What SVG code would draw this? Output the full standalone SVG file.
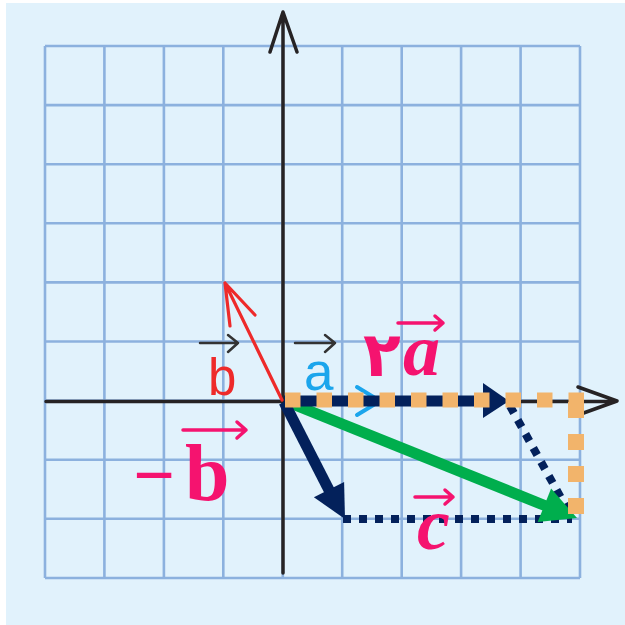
<svg xmlns="http://www.w3.org/2000/svg" width="625" height="625" viewBox="0 0 625 625">
<style>
.grid line{stroke:#8cb1de;stroke-width:2.6}
.axis{stroke:#262324;stroke-width:3.5;fill:none;stroke-linecap:round;stroke-linejoin:round}
.navy{fill:#03215b}
.navyline{stroke:#03215b;fill:none}
.pinkarrow{stroke:#f5136f;stroke-width:3.5;fill:none;stroke-linecap:round;stroke-linejoin:round}
.blackarrow{stroke:#333;stroke-width:2.5;fill:none;stroke-linecap:round;stroke-linejoin:round}
.pink{fill:#f5136f}
.serif{font-family:"Liberation Serif","Times New Roman",serif;font-weight:bold}
</style>
<rect x="0" y="0" width="625" height="625" fill="#ffffff"/>
<rect x="6" y="3" width="619" height="622" fill="#e1f2fc"/>
<g class="grid" id="grid">
<line x1="45" y1="46" x2="45" y2="578"/>
<line x1="104.4" y1="46" x2="104.4" y2="578"/>
<line x1="163.9" y1="46" x2="163.9" y2="578"/>
<line x1="223.3" y1="46" x2="223.3" y2="578"/>
<line x1="282.8" y1="46" x2="282.8" y2="578"/>
<line x1="342.2" y1="46" x2="342.2" y2="578"/>
<line x1="401.7" y1="46" x2="401.7" y2="578"/>
<line x1="461.1" y1="46" x2="461.1" y2="578"/>
<line x1="520.6" y1="46" x2="520.6" y2="578"/>
<line x1="580" y1="46" x2="580" y2="578"/>
<line x1="45" y1="46" x2="580" y2="46"/>
<line x1="45" y1="105.1" x2="580" y2="105.1"/>
<line x1="45" y1="164.2" x2="580" y2="164.2"/>
<line x1="45" y1="223.3" x2="580" y2="223.3"/>
<line x1="45" y1="282.4" x2="580" y2="282.4"/>
<line x1="45" y1="341.5" x2="580" y2="341.5"/>
<line x1="45" y1="400.6" x2="580" y2="400.6"/>
<line x1="45" y1="459.7" x2="580" y2="459.7"/>
<line x1="45" y1="518.8" x2="580" y2="518.8"/>
<line x1="45" y1="578" x2="580" y2="578"/>
</g>
<g id="axes">
<path class="axis" d="M46,401.5 H616 M578,387 L617,401 L578,415"/>
<path class="axis" d="M283,573 V12 M270,52 L283,12 L297,52"/>
</g>
<g id="connectors">
<g id="vec-b">
<path d="M282,400 L225,283 M230,326 L225,283 L255,315" stroke="#ee2a2a" stroke-width="3.2" fill="none" stroke-linecap="round" stroke-linejoin="round"/>
</g>
<g id="vec-a-hint">
<path d="M357,387 L380,401 L357,415" stroke="#1ba5ec" stroke-width="4" fill="none" stroke-linecap="round"/>
</g>
<path class="navyline" d="M510,406 L570,514" stroke-width="8" stroke-dasharray="8 8"/>
<path class="navyline" d="M343,519 H572" stroke-width="8" stroke-dasharray="8 8"/>
<g id="vec-c">
<line x1="285" y1="401" x2="546" y2="506" stroke="#00ae4d" stroke-width="11"/>
<polygon points="577,518 537.7,522 551.1,488.6" fill="#00ae4d"/>
</g>
<g id="vec-2a">
<line x1="284" y1="401" x2="487" y2="401" stroke="#03215b" stroke-width="11"/>
<polygon class="navy" points="483,383 509,401 483,418"/>
</g>
<g id="vec-minus-b">
<line x1="284" y1="402" x2="330" y2="492" stroke="#03215b" stroke-width="11"/>
<polygon class="navy" points="345,519 344.1,481.9 313.9,497.3"/>
</g>
<path d="M285,400 H584" stroke="#f2b46b" stroke-width="15" stroke-dasharray="15.5 16" fill="none"/>
<path d="M576,402 V515" stroke="#f2b46b" stroke-width="16" stroke-dasharray="16 16" fill="none"/>
</g>
<g id="label-b">
<path class="blackarrow" d="M200,343 H238 M228,335 L238,343 L228,352"/>
<text x="208" y="395" font-family="Liberation Sans, Arial, sans-serif" font-size="51" fill="#ee2a2a">b</text>
</g>
<g id="label-a">
<path class="blackarrow" d="M295,343 H335 M325,335 L335,343 L325,352"/>
<text x="304" y="390" font-family="Liberation Sans, Arial, sans-serif" font-size="53" fill="#1ba5ec">a</text>
</g>
<g id="label-2a">
<text x="363" y="376" font-family="DejaVu Sans, Noto Sans, sans-serif" font-weight="bold" font-size="62" class="pink">٢</text>
<text x="403" y="375" class="serif pink" font-style="italic" font-size="74">a</text>
<path class="pinkarrow" d="M398,323 H443 M435,316 L443,323 L435,330"/>
</g>
<g id="label-minus-b">
<text x="133" y="500" class="serif pink" font-size="74">−</text>
<text x="185" y="500" class="serif pink" font-size="80">b</text>
<path class="pinkarrow" d="M183,430 H246 M237,422 L246,430 L237,438"/>
</g>
<g id="label-c">
<text x="417" y="549" class="serif pink" font-style="italic" font-size="74">c</text>
<path class="pinkarrow" d="M415,497 H453 M445,490 L453,497 L445,504"/>
</g>
</svg>
